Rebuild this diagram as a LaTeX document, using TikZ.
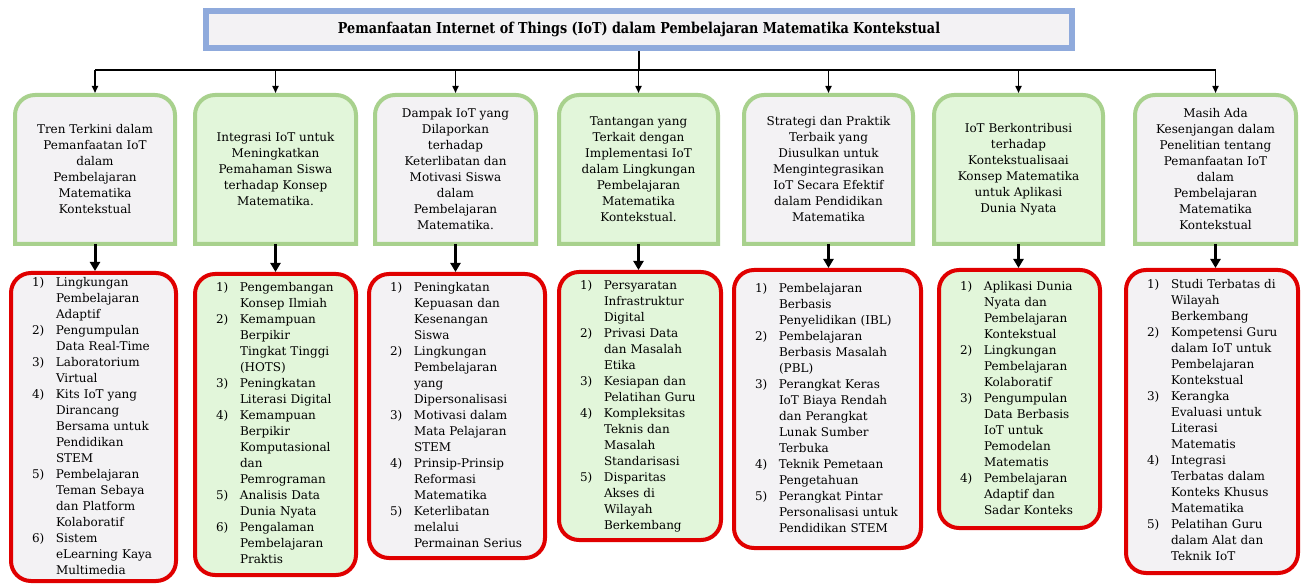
\documentclass[tikz,border=0pt]{standalone}
\usepackage{fontspec}
\setmainfont{DejaVu Serif}
\newfontfamily\titlefont[FakeStretch=0.85]{DejaVu Serif}
\usetikzlibrary{arrows.meta,backgrounds}
\definecolor{grayfill}{HTML}{F3F2F4}
\definecolor{greenfill}{HTML}{E2F6DA}
\definecolor{greenline}{HTML}{A8D18D}
\definecolor{redline}{HTML}{E00000}
\definecolor{blueline}{HTML}{8FAADC}
\newcommand\TopShape[2]{%
  \draw[line width=4pt, draw=greenline, fill=#2] (#1.south west) -- ([yshift=-20pt]#1.north west)
    arc[start angle=180,end angle=90,radius=20pt] -- ([xshift=-20pt]#1.north east)
    arc[start angle=90,end angle=0,radius=20pt] -- (#1.south east) -- cycle;}
\newcommand\LT[1]{\noindent\begin{tabular}{@{}p{24pt}@{}l@{}}#1\end{tabular}}
\begin{document}
\begin{tikzpicture}[x=1pt,y=-1pt,
  every node/.style={font=\fontsize{12}{16}\selectfont},
  topbox/.style={inner sep=0pt, outer sep=0pt, align=center, minimum height=149pt},
  listbox/.style={draw=redline, line width=4pt, rounded corners=20pt, anchor=north,
                  inner xsep=21pt, inner ysep=0pt, align=left},
  conn/.style={line width=1.6pt, -{Triangle[length=7pt,width=6pt]}},
  bigconn/.style={line width=3pt, -{Triangle[length=9pt,width=10pt]}}
]
\useasboundingbox (0,0) rectangle (1307,585);

% title
\node[draw=blueline, line width=6pt, fill=grayfill, minimum width=866pt, minimum height=37pt,
      inner sep=0pt, font=\titlefont\bfseries\fontsize{15}{17}\selectfont] (title) at (639,29.5)
  {Pemanfaatan Internet of Things (IoT) dalam Pembelajaran Matematika Kontekstual};

% top boxes
\node[topbox, minimum width=160pt] (t1) at (95,169.5)
  {Tren Terkini dalam\\Pemanfaatan IoT\\dalam\\Pembelajaran\\Matematika\\Kontekstual};
\node[topbox, minimum width=161pt] (t2) at (275.5,169.5)
  {Integrasi IoT untuk\\Meningkatkan\\Pemahaman Siswa\\terhadap Konsep\\Matematika.};
\node[topbox, minimum width=161pt] (t3) at (455.5,169.5)
  {Dampak IoT yang\\Dilaporkan\\terhadap\\Keterlibatan dan\\Motivasi Siswa\\dalam\\Pembelajaran\\Matematika.};
\node[topbox, minimum width=159pt] (t4) at (638.5,169.5)
  {Tantangan yang\\Terkait dengan\\Implementasi IoT\\dalam Lingkungan\\Pembelajaran\\Matematika\\Kontekstual.};
\node[topbox, minimum width=169pt] (t5) at (828.5,169.5)
  {Strategi dan Praktik\\Terbaik yang\\Diusulkan untuk\\Mengintegrasikan\\IoT Secara Efektif\\dalam Pendidikan\\Matematika};
\node[topbox, minimum width=169pt] (t6) at (1018.5,169.5)
  {IoT Berkontribusi\\terhadap\\Kontekstualisaai\\Konsep Matematika\\untuk Aplikasi\\Dunia Nyata};
\node[topbox, minimum width=161pt] (t7) at (1215.5,169.5)
  {Masih Ada\\Kesenjangan dalam\\Penelitian tentang\\Pemanfaatan IoT\\dalam\\Pembelajaran\\Matematika\\Kontekstual};

\begin{scope}[on background layer]
  \TopShape{t1}{grayfill}
  \TopShape{t2}{greenfill}
  \TopShape{t3}{grayfill}
  \TopShape{t4}{greenfill}
  \TopShape{t5}{grayfill}
  \TopShape{t6}{greenfill}
  \TopShape{t7}{grayfill}
\end{scope}

% bottom boxes
\node[listbox, fill=grayfill, minimum width=165pt, minimum height=308pt, text width=123pt] (b1) at (93.5,271)
  {\LT{1) & Lingkungan\\ & Pembelajaran\\ & Adaptif\\
       2) & Pengumpulan\\ & Data Real-Time\\
       3) & Laboratorium\\ & Virtual\\
       4) & Kits IoT yang\\ & Dirancang\\ & Bersama untuk\\ & Pendidikan\\ & STEM\\
       5) & Pembelajaran\\ & Teman Sebaya\\ & dan Platform\\ & Kolaboratif\\
       6) & Sistem\\ & eLearning Kaya\\ & Multimedia}};
\node[listbox, fill=greenfill, minimum width=161pt, minimum height=301pt, text width=119pt] (b2) at (275.5,272)
  {\LT{1) & Pengembangan\\ & Konsep Ilmiah\\
       2) & Kemampuan\\ & Berpikir\\ & Tingkat Tinggi\\ & (HOTS)\\
       3) & Peningkatan\\ & Literasi Digital\\
       4) & Kemampuan\\ & Berpikir\\ & Komputasional\\ & dan\\ & Pemrograman\\
       5) & Analisis Data\\ & Dunia Nyata\\
       6) & Pengalaman\\ & Pembelajaran\\ & Praktis}};
\node[listbox, fill=grayfill, minimum width=176pt, minimum height=284pt, text width=134pt] (b3) at (457,272)
  {\LT{1) & Peningkatan\\ & Kepuasan dan\\ & Kesenangan\\ & Siswa\\
       2) & Lingkungan\\ & Pembelajaran\\ & yang\\ & Dipersonalisasi\\
       3) & Motivasi dalam\\ & Mata Pelajaran\\ & STEM\\
       4) & Prinsip-Prinsip\\ & Reformasi\\ & Matematika\\
       5) & Keterlibatan\\ & melalui\\ & Permainan Serius}};
\node[listbox, fill=greenfill, minimum width=162pt, minimum height=268pt, text width=120pt] (b4) at (640,270)
  {\LT{1) & Persyaratan\\ & Infrastruktur\\ & Digital\\
       2) & Privasi Data\\ & dan Masalah\\ & Etika\\
       3) & Kesiapan dan\\ & Pelatihan Guru\\
       4) & Kompleksitas\\ & Teknis dan\\ & Masalah\\ & Standarisasi\\
       5) & Disparitas\\ & Akses di\\ & Wilayah\\ & Berkembang}};
\node[listbox, fill=grayfill, minimum width=187pt, minimum height=278pt, text width=145pt] (b5) at (827.5,268)
  {\LT{1) & Pembelajaran\\ & Berbasis\\ & Penyelidikan (IBL)\\
       2) & Pembelajaran\\ & Berbasis Masalah\\ & (PBL)\\
       3) & Perangkat Keras\\ & IoT Biaya Rendah\\ & dan Perangkat\\ & Lunak Sumber\\ & Terbuka\\
       4) & Teknik Pemetaan\\ & Pengetahuan\\
       5) & Perangkat Pintar\\ & Personalisasi untuk\\ & Pendidikan STEM}};
\node[listbox, fill=greenfill, minimum width=161pt, minimum height=258pt, text width=119pt] (b6) at (1019.5,268)
  {\LT{1) & Aplikasi Dunia\\ & Nyata dan\\ & Pembelajaran\\ & Kontekstual\\
       2) & Lingkungan\\ & Pembelajaran\\ & Kolaboratif\\
       3) & Pengumpulan\\ & Data Berbasis\\ & IoT untuk\\ & Pemodelan\\ & Matematis\\
       4) & Pembelajaran\\ & Adaptif dan\\ & Sadar Konteks}};
\node[listbox, fill=grayfill, minimum width=172pt, minimum height=303pt, text width=130pt] (b7) at (1212,268)
  {\LT{1) & Studi Terbatas di\\ & Wilayah\\ & Berkembang\\
       2) & Kompetensi Guru\\ & dalam IoT untuk\\ & Pembelajaran\\ & Kontekstual\\
       3) & Kerangka\\ & Evaluasi untuk\\ & Literasi\\ & Matematis\\
       4) & Integrasi\\ & Terbatas dalam\\ & Konteks Khusus\\ & Matematika\\
       5) & Pelatihan Guru\\ & dalam Alat dan\\ & Teknik IoT}};

% connectors
\coordinate (busL) at (95,70);
\coordinate (busR) at (1215.5,70);
\draw[line width=1.6pt] (busL) -- (busR);
\draw[line width=1.6pt] (title.south) -- (title.south |- busL);
\foreach \i in {1,...,7}{
  \draw[conn] (t\i.north |- busL) -- ([yshift=2pt]t\i.north);
  \draw[bigconn] (t\i.south) -- (t\i.south |- b\i.north);
}
\end{tikzpicture}
\end{document}
